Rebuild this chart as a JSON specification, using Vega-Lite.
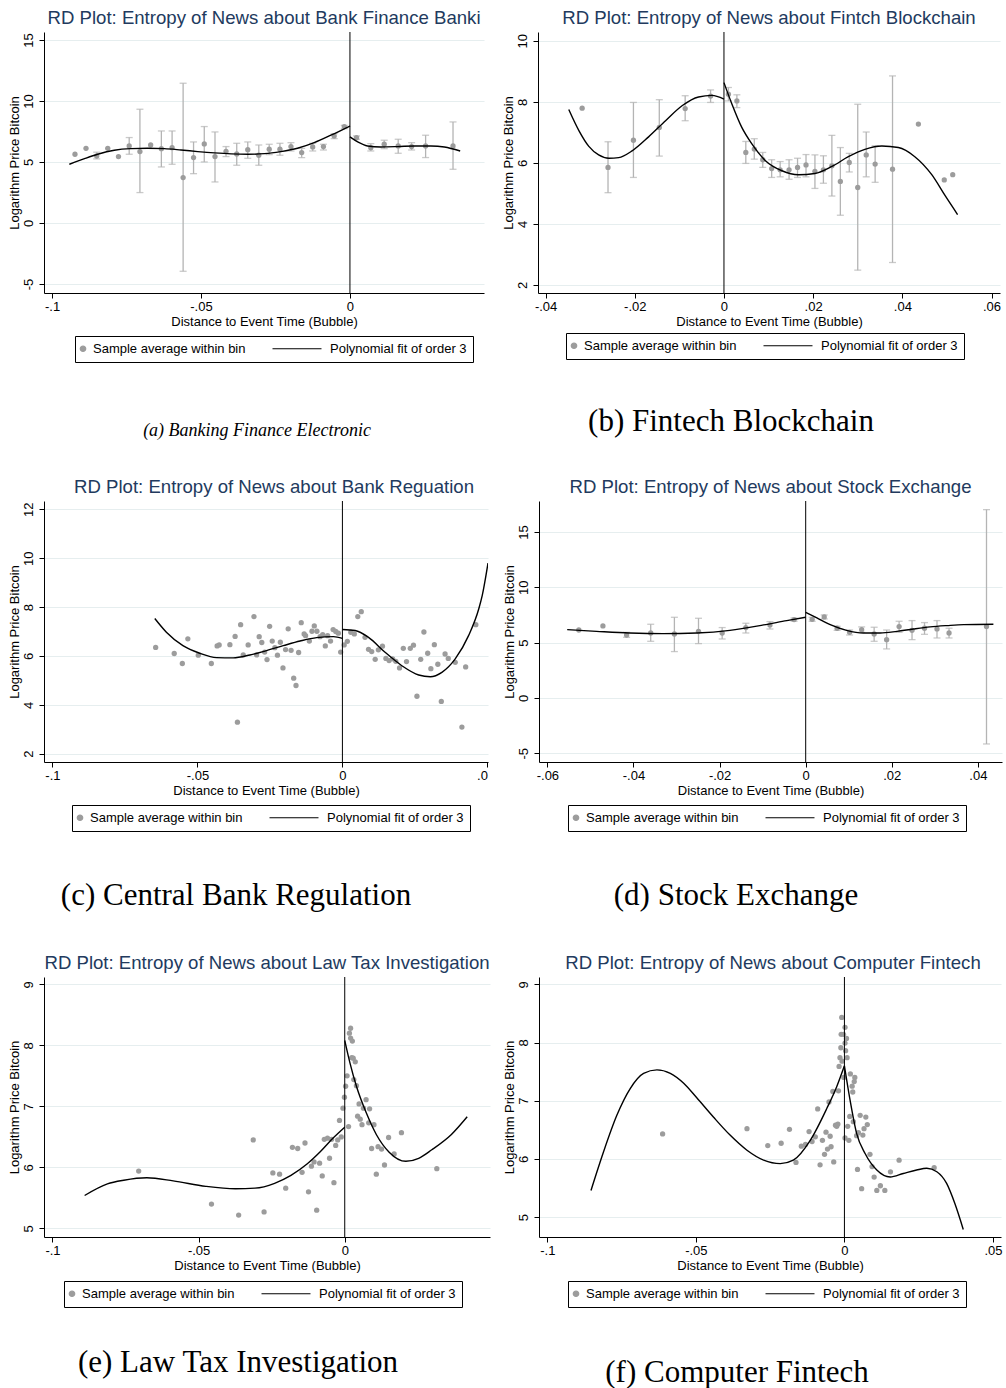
{
"$schema":"https://vega.github.io/schema/vega-lite/v6.json",
"background":"white",
"padding":{"left":7,"top":8,"right":0,"bottom":0},
"config":{
 "view":{"stroke":null},
 "font":"Liberation Sans",
 "title":{"font":"Liberation Sans","fontSize":18.6,"fontWeight":"normal","color":"#223a5e","frame":"group","anchor":"middle","offset":4},
 "axis":{"labelFont":"Liberation Sans","labelFontSize":13,"labelColor":"#000000","titleFont":"Liberation Sans","titleFontSize":13,"titleFontWeight":"normal","titleColor":"#000000","domainColor":"#000000","tickColor":"#000000","tickSize":5,"gridColor":"#e6eeef","gridWidth":1.2},
 "axisX":{"grid":false,"labelPadding":2,"titlePadding":2},
 "axisY":{"grid":true,"labelAngle":-90,"labelAlign":"center","labelBaseline":"bottom","labelPadding":4,"titlePadding":1,"title":"Logarithm Price Bitcoin"}
},
"datasets":{
 "a_pts":[{"x":-0.0923,"y":5.63},{"x":-0.0886,"y":6.12},{"x":-0.085,"y":5.49,"lo":5.25,"hi":5.8},{"x":-0.0813,"y":6.12},{"x":-0.0777,"y":5.44},{"x":-0.0741,"y":6.31,"lo":5.63,"hi":7.0},{"x":-0.0705,"y":5.85,"lo":2.49,"hi":9.32},{"x":-0.0669,"y":6.39},{"x":-0.0633,"y":6.09,"lo":4.59,"hi":7.54},{"x":-0.0597,"y":6.17,"lo":4.81,"hi":7.54},{"x":-0.056,"y":3.72,"lo":-3.96,"hi":11.45},{"x":-0.0525,"y":5.36,"lo":4.04,"hi":6.64},{"x":-0.0489,"y":6.48,"lo":5.0,"hi":7.9},{"x":-0.0453,"y":5.44,"lo":3.36,"hi":7.46},{"x":-0.0416,"y":5.87,"lo":5.44,"hi":6.26},{"x":-0.038,"y":5.66,"lo":4.73,"hi":6.53},{"x":-0.0343,"y":6.01,"lo":5.3,"hi":6.64},{"x":-0.0306,"y":5.55,"lo":4.73,"hi":6.39},{"x":-0.0271,"y":6.04,"lo":5.6,"hi":6.45},{"x":-0.0235,"y":6.04,"lo":5.55,"hi":6.53},{"x":-0.0198,"y":6.26,"lo":5.9,"hi":6.58},{"x":-0.0162,"y":5.77,"lo":5.36,"hi":6.12},{"x":-0.0125,"y":6.23,"lo":5.9,"hi":6.53},{"x":-0.0089,"y":6.26,"lo":5.98,"hi":6.45},{"x":-0.0053,"y":7.13,"lo":6.91,"hi":7.32},{"x":-0.0019,"y":7.9,"lo":7.73,"hi":8.0},{"x":0.0022,"y":6.99,"lo":6.86,"hi":7.13},{"x":0.007,"y":6.17,"lo":5.9,"hi":6.5},{"x":0.0115,"y":6.45,"lo":6.09,"hi":6.78},{"x":0.0162,"y":6.31,"lo":5.71,"hi":6.86},{"x":0.0207,"y":6.26,"lo":5.98,"hi":6.58},{"x":0.0254,"y":6.31,"lo":5.36,"hi":7.19},{"x":0.0346,"y":6.31,"lo":4.4,"hi":8.28}],
 "a_fit":[{"side":"L","x":-0.0942,"y":4.81},{"side":"L","x":-0.0891,"y":5.27},{"side":"L","x":-0.0847,"y":5.63},{"side":"L","x":-0.0791,"y":5.96},{"side":"L","x":-0.0735,"y":6.09},{"side":"L","x":-0.0679,"y":6.12},{"side":"L","x":-0.0623,"y":6.09},{"side":"L","x":-0.0567,"y":5.98},{"side":"L","x":-0.0511,"y":5.85},{"side":"L","x":-0.0455,"y":5.74},{"side":"L","x":-0.0399,"y":5.66},{"side":"L","x":-0.0343,"y":5.63},{"side":"L","x":-0.0287,"y":5.68},{"side":"L","x":-0.0232,"y":5.85},{"side":"L","x":-0.0176,"y":6.12},{"side":"L","x":-0.012,"y":6.58},{"side":"L","x":-0.0064,"y":7.19},{"side":"L","x":0,"y":7.95},{"side":"R","x":0,"y":7.05},{"side":"R","x":0.0026,"y":6.64},{"side":"R","x":0.0059,"y":6.31},{"side":"R","x":0.0104,"y":6.23},{"side":"R","x":0.016,"y":6.26},{"side":"R","x":0.0216,"y":6.31},{"side":"R","x":0.0272,"y":6.31},{"side":"R","x":0.0317,"y":6.23},{"side":"R","x":0.037,"y":5.9}],
 "b_pts":[{"x":-0.0318,"y":7.79},{"x":-0.026,"y":5.85,"lo":5.02,"hi":6.69},{"x":-0.0203,"y":6.74,"lo":5.52,"hi":7.98},{"x":-0.0145,"y":7.16,"lo":6.22,"hi":8.07},{"x":-0.0087,"y":7.78,"lo":7.38,"hi":8.2},{"x":-0.003,"y":8.19,"lo":7.98,"hi":8.39},{"x":0.001,"y":8.25,"lo":8.03,"hi":8.47},{"x":0.0029,"y":8.03,"lo":7.81,"hi":8.23},{"x":0.0049,"y":6.34,"lo":5.98,"hi":6.7},{"x":0.0068,"y":6.45,"lo":6.12,"hi":6.79},{"x":0.0087,"y":6.1,"lo":5.85,"hi":6.34},{"x":0.0107,"y":5.81,"lo":5.52,"hi":6.1},{"x":0.0126,"y":5.77,"lo":5.54,"hi":6.04},{"x":0.0146,"y":5.77,"lo":5.46,"hi":6.1},{"x":0.0165,"y":5.85,"lo":5.52,"hi":6.15},{"x":0.0184,"y":5.93,"lo":5.54,"hi":6.27},{"x":0.0204,"y":5.72,"lo":5.16,"hi":6.26},{"x":0.0223,"y":5.77,"lo":5.33,"hi":6.23},{"x":0.0242,"y":5.9,"lo":4.91,"hi":6.9},{"x":0.0261,"y":5.39,"lo":4.28,"hi":6.5},{"x":0.0281,"y":6.01,"lo":5.7,"hi":6.31},{"x":0.03,"y":5.19,"lo":2.48,"hi":7.92},{"x":0.0319,"y":6.26,"lo":5.54,"hi":7.01},{"x":0.0339,"y":5.96,"lo":5.36,"hi":6.56},{"x":0.0378,"y":5.79,"lo":2.73,"hi":8.85},{"x":0.0436,"y":7.27},{"x":0.0494,"y":5.44},{"x":0.0513,"y":5.61}],
 "b_fit":[{"side":"L","x":-0.0348,"y":7.75},{"side":"L","x":-0.0325,"y":7.05},{"side":"L","x":-0.0303,"y":6.54},{"side":"L","x":-0.0281,"y":6.26},{"side":"L","x":-0.0258,"y":6.15},{"side":"L","x":-0.0236,"y":6.17},{"side":"L","x":-0.0206,"y":6.39},{"side":"L","x":-0.0169,"y":6.85},{"side":"L","x":-0.0131,"y":7.38},{"side":"L","x":-0.0094,"y":7.87},{"side":"L","x":-0.0057,"y":8.16},{"side":"L","x":-0.0027,"y":8.21},{"side":"L","x":0,"y":8.09},{"side":"R","x":0,"y":8.63},{"side":"R","x":0.0018,"y":7.92},{"side":"R","x":0.004,"y":7.16},{"side":"R","x":0.0063,"y":6.61},{"side":"R","x":0.0093,"y":6.07},{"side":"R","x":0.013,"y":5.74},{"side":"R","x":0.0167,"y":5.61},{"side":"R","x":0.0204,"y":5.65},{"side":"R","x":0.0242,"y":5.88},{"side":"R","x":0.0279,"y":6.2},{"side":"R","x":0.0316,"y":6.44},{"side":"R","x":0.0354,"y":6.55},{"side":"R","x":0.0391,"y":6.5},{"side":"R","x":0.0428,"y":6.2},{"side":"R","x":0.0466,"y":5.61},{"side":"R","x":0.0496,"y":4.92},{"side":"R","x":0.0524,"y":4.3}],
 "c_pts":[{"x":-0.0644,"y":6.35},{"x":-0.058,"y":6.1},{"x":-0.0552,"y":5.69},{"x":-0.0533,"y":6.7},{"x":-0.0497,"y":6.03},{"x":-0.0452,"y":5.69},{"x":-0.0432,"y":6.41},{"x":-0.0425,"y":6.45},{"x":-0.0388,"y":6.46},{"x":-0.037,"y":6.8},{"x":-0.0351,"y":7.28},{"x":-0.0342,"y":6.04},{"x":-0.0325,"y":6.45},{"x":-0.0305,"y":7.61},{"x":-0.0296,"y":6.04},{"x":-0.0287,"y":6.79},{"x":-0.0278,"y":6.55},{"x":-0.0268,"y":6.16},{"x":-0.026,"y":5.85},{"x":-0.0251,"y":7.21},{"x":-0.0242,"y":6.61},{"x":-0.0233,"y":6.34},{"x":-0.0224,"y":6.03},{"x":-0.0214,"y":6.56},{"x":-0.0205,"y":5.51},{"x":-0.0196,"y":6.26},{"x":-0.0187,"y":7.11},{"x":-0.0177,"y":6.23},{"x":-0.0168,"y":5.09},{"x":-0.016,"y":4.79},{"x":-0.0151,"y":6.14},{"x":-0.0142,"y":7.36},{"x":-0.0132,"y":6.9},{"x":-0.0127,"y":6.83},{"x":-0.0114,"y":6.61},{"x":-0.0105,"y":7.01},{"x":-0.0097,"y":7.23},{"x":-0.0088,"y":7.01},{"x":-0.0077,"y":6.79},{"x":-0.0068,"y":6.87},{"x":-0.0059,"y":6.41},{"x":-0.0051,"y":6.83},{"x":-0.0041,"y":6.61},{"x":-0.0032,"y":7.08},{"x":-0.0023,"y":7.0},{"x":-0.0014,"y":6.93},{"x":-0.0006,"y":6.16},{"x":-0.0362,"y":3.29},{"x":0.0006,"y":6.45},{"x":0.0017,"y":6.6},{"x":0.0029,"y":6.97},{"x":0.0041,"y":6.9},{"x":0.0053,"y":7.61},{"x":0.0065,"y":7.81},{"x":0.0078,"y":6.76},{"x":0.009,"y":6.27},{"x":0.0101,"y":6.18},{"x":0.0113,"y":5.86},{"x":0.0124,"y":6.25},{"x":0.0138,"y":6.4},{"x":0.015,"y":5.9},{"x":0.0161,"y":5.81},{"x":0.0173,"y":5.88},{"x":0.0184,"y":5.78},{"x":0.0197,"y":5.51},{"x":0.021,"y":6.31},{"x":0.0221,"y":5.77},{"x":0.0234,"y":6.31},{"x":0.0245,"y":6.44},{"x":0.0257,"y":4.35},{"x":0.027,"y":5.86},{"x":0.0281,"y":6.98},{"x":0.0294,"y":6.11},{"x":0.0305,"y":5.48},{"x":0.0317,"y":6.46},{"x":0.0329,"y":5.66},{"x":0.0341,"y":4.14},{"x":0.0354,"y":6.08},{"x":0.0365,"y":5.9},{"x":0.0389,"y":5.74},{"x":0.0412,"y":3.09},{"x":0.0425,"y":5.55},{"x":0.046,"y":7.28}],
 "c_fit":[{"side":"L","x":-0.0647,"y":7.53},{"side":"L","x":-0.0607,"y":6.97},{"side":"L","x":-0.055,"y":6.42},{"side":"L","x":-0.0492,"y":6.11},{"side":"L","x":-0.0434,"y":5.93},{"side":"L","x":-0.0377,"y":5.92},{"side":"L","x":-0.0319,"y":6.04},{"side":"L","x":-0.0262,"y":6.22},{"side":"L","x":-0.0204,"y":6.42},{"side":"L","x":-0.0146,"y":6.61},{"side":"L","x":-0.0089,"y":6.75},{"side":"L","x":-0.0031,"y":6.79},{"side":"L","x":0,"y":6.72},{"side":"R","x":0,"y":7.08},{"side":"R","x":0.0044,"y":7.04},{"side":"R","x":0.009,"y":6.76},{"side":"R","x":0.0147,"y":6.15},{"side":"R","x":0.0205,"y":5.6},{"side":"R","x":0.0263,"y":5.22},{"side":"R","x":0.0303,"y":5.15},{"side":"R","x":0.0343,"y":5.33},{"side":"R","x":0.0389,"y":5.88},{"side":"R","x":0.0435,"y":6.83},{"side":"R","x":0.047,"y":7.92},{"side":"R","x":0.0482,"y":8.47},{"side":"R","x":0.0502,"y":9.8}],
 "d_pts":[{"x":-0.0527,"y":6.14},{"x":-0.0471,"y":6.51},{"x":-0.0416,"y":5.69,"lo":5.48,"hi":5.93},{"x":-0.036,"y":5.87,"lo":5.12,"hi":6.66},{"x":-0.0305,"y":5.78,"lo":4.19,"hi":7.29},{"x":-0.0249,"y":6.02,"lo":4.91,"hi":7.2},{"x":-0.0194,"y":5.87,"lo":5.33,"hi":6.36},{"x":-0.0139,"y":6.36,"lo":5.87,"hi":6.75},{"x":-0.0083,"y":6.6,"lo":6.23,"hi":6.9},{"x":-0.0027,"y":7.08,"lo":6.93,"hi":7.23},{"x":0.0015,"y":7.11,"lo":6.93,"hi":7.29},{"x":0.0043,"y":7.32,"lo":7.14,"hi":7.5},{"x":0.0073,"y":6.3,"lo":6.11,"hi":6.48},{"x":0.0102,"y":5.93,"lo":5.69,"hi":6.14},{"x":0.013,"y":6.17,"lo":5.93,"hi":6.42},{"x":0.0159,"y":5.78,"lo":5.12,"hi":6.39},{"x":0.0188,"y":5.27,"lo":4.43,"hi":6.14},{"x":0.0217,"y":6.45,"lo":5.93,"hi":6.93},{"x":0.0247,"y":6.11,"lo":5.27,"hi":6.99},{"x":0.0276,"y":6.3,"lo":5.75,"hi":6.81},{"x":0.0305,"y":6.24,"lo":5.42,"hi":6.99},{"x":0.0333,"y":5.87,"lo":5.42,"hi":6.3},{"x":0.042,"y":6.45,"lo":-4.16,"hi":17.02}],
 "d_fit":[{"side":"L","x":-0.0554,"y":6.17},{"side":"L","x":-0.0486,"y":6.02},{"side":"L","x":-0.0409,"y":5.87},{"side":"L","x":-0.0331,"y":5.81},{"side":"L","x":-0.0253,"y":5.87},{"side":"L","x":-0.0176,"y":6.11},{"side":"L","x":-0.0098,"y":6.6},{"side":"L","x":-0.0044,"y":6.99},{"side":"L","x":0,"y":7.29},{"side":"R","x":0,"y":7.74},{"side":"R","x":0.0026,"y":7.23},{"side":"R","x":0.0057,"y":6.63},{"side":"R","x":0.0095,"y":6.11},{"side":"R","x":0.0134,"y":5.87},{"side":"R","x":0.0173,"y":5.87},{"side":"R","x":0.0212,"y":6.02},{"side":"R","x":0.025,"y":6.23},{"side":"R","x":0.0289,"y":6.42},{"side":"R","x":0.0328,"y":6.54},{"side":"R","x":0.0367,"y":6.63},{"side":"R","x":0.0436,"y":6.66}],
 "e_pts":[{"x":-0.0705,"y":5.94},{"x":-0.0456,"y":5.4},{"x":-0.0363,"y":5.22},{"x":-0.0313,"y":6.45},{"x":-0.0276,"y":5.27},{"x":-0.0246,"y":5.91},{"x":-0.0223,"y":5.89},{"x":-0.0202,"y":5.66},{"x":-0.0179,"y":6.33},{"x":-0.0161,"y":6.31},{"x":-0.0146,"y":5.92},{"x":-0.0136,"y":6.4},{"x":-0.0124,"y":5.6},{"x":-0.0114,"y":6.02},{"x":-0.0105,"y":6.09},{"x":-0.0096,"y":5.3},{"x":-0.0086,"y":6.07},{"x":-0.0077,"y":5.86},{"x":-0.007,"y":6.46},{"x":-0.0059,"y":6.48},{"x":-0.0052,"y":6.15},{"x":-0.0045,"y":6.46},{"x":-0.0037,"y":5.75},{"x":-0.0031,"y":6.36},{"x":-0.0024,"y":6.45},{"x":-0.0018,"y":6.77},{"x":-0.0012,"y":6.5},{"x":-0.0006,"y":6.97},{"x":-0.0001,"y":7.15},{"x":0.0003,"y":7.33},{"x":0.0008,"y":7.5},{"x":0.0013,"y":6.67},{"x":0.0016,"y":8.2},{"x":0.002,"y":8.28},{"x":0.002,"y":8.12},{"x":0.0026,"y":8.07},{"x":0.0024,"y":7.8},{"x":0.0029,"y":7.79},{"x":0.0036,"y":7.73},{"x":0.0031,"y":7.44},{"x":0.004,"y":7.34},{"x":0.0049,"y":7.04},{"x":0.0044,"y":6.84},{"x":0.0053,"y":6.79},{"x":0.0059,"y":6.7},{"x":0.0064,"y":6.97},{"x":0.0073,"y":7.11},{"x":0.0085,"y":6.96},{"x":0.0082,"y":6.73},{"x":0.01,"y":6.7},{"x":0.0092,"y":6.31},{"x":0.0114,"y":6.34},{"x":0.0126,"y":6.3},{"x":0.0108,"y":5.89},{"x":0.0136,"y":6.04},{"x":0.015,"y":6.49},{"x":0.0169,"y":6.22},{"x":0.0194,"y":6.57},{"x":0.0315,"y":5.98}],
 "e_fit":[{"side":"L","x":-0.089,"y":5.54},{"side":"L","x":-0.0812,"y":5.73},{"side":"L","x":-0.0756,"y":5.79},{"side":"L","x":-0.0677,"y":5.83},{"side":"L","x":-0.0587,"y":5.78},{"side":"L","x":-0.0475,"y":5.69},{"side":"L","x":-0.0374,"y":5.65},{"side":"L","x":-0.0307,"y":5.66},{"side":"L","x":-0.024,"y":5.74},{"side":"L","x":-0.0184,"y":5.87},{"side":"L","x":-0.0128,"y":6.06},{"side":"L","x":-0.0083,"y":6.26},{"side":"L","x":-0.0038,"y":6.49},{"side":"L","x":0,"y":6.66},{"side":"R","x":0,"y":8.08},{"side":"R","x":0.0018,"y":7.71},{"side":"R","x":0.004,"y":7.33},{"side":"R","x":0.0074,"y":6.89},{"side":"R","x":0.0108,"y":6.54},{"side":"R","x":0.0152,"y":6.25},{"side":"R","x":0.0209,"y":6.1},{"side":"R","x":0.0253,"y":6.15},{"side":"R","x":0.0298,"y":6.29},{"side":"R","x":0.0365,"y":6.54},{"side":"R","x":0.0419,"y":6.83}],
 "f_pts":[{"x":-0.0612,"y":6.43},{"x":-0.0328,"y":6.52},{"x":-0.0258,"y":6.23},{"x":-0.0213,"y":6.27},{"x":-0.0185,"y":6.51},{"x":-0.0163,"y":5.94},{"x":-0.0145,"y":6.22},{"x":-0.0131,"y":6.25},{"x":-0.0119,"y":6.47},{"x":-0.0109,"y":6.3},{"x":-0.0098,"y":6.38},{"x":-0.009,"y":6.86},{"x":-0.0082,"y":5.9},{"x":-0.0074,"y":6.32},{"x":-0.0067,"y":6.08},{"x":-0.0062,"y":6.46},{"x":-0.0057,"y":6.17},{"x":-0.0052,"y":6.98},{"x":-0.0048,"y":6.39},{"x":-0.0045,"y":6.21},{"x":-0.0039,"y":7.16},{"x":-0.0036,"y":5.95},{"x":-0.003,"y":6.58},{"x":-0.0026,"y":6.56},{"x":-0.0022,"y":6.6},{"x":-0.002,"y":7.17},{"x":-0.0018,"y":7.59},{"x":-0.0015,"y":7.74},{"x":-0.0012,"y":7.91},{"x":-0.0011,"y":8.14},{"x":-0.0009,"y":8.43},{"x":-0.0008,"y":7.68},{"x":-0.0003,"y":8.14},{"x":-0.0002,"y":7.4},{"x":0.0002,"y":8.26},{"x":0.0002,"y":7.99},{"x":0.0004,"y":7.86},{"x":0.0007,"y":8.07},{"x":0.0009,"y":7.74},{"x":0.0002,"y":6.36},{"x":0.0015,"y":6.32},{"x":0.0011,"y":6.56},{"x":0.0018,"y":6.73},{"x":0.002,"y":7.46},{"x":0.0026,"y":7.25},{"x":0.0028,"y":7.15},{"x":0.0033,"y":7.33},{"x":0.0035,"y":7.4},{"x":0.003,"y":6.64},{"x":0.0041,"y":6.4},{"x":0.0047,"y":6.45},{"x":0.0044,"y":5.82},{"x":0.0053,"y":6.75},{"x":0.0062,"y":6.41},{"x":0.0066,"y":6.52},{"x":0.0072,"y":6.72},{"x":0.0077,"y":6.59},{"x":0.0058,"y":5.49},{"x":0.0086,"y":6.08},{"x":0.0093,"y":5.87},{"x":0.01,"y":5.69},{"x":0.0109,"y":5.46},{"x":0.0121,"y":5.54},{"x":0.0136,"y":5.46},{"x":0.0155,"y":5.78},{"x":0.0184,"y":5.98},{"x":0.0302,"y":5.85}],
 "f_fit":[{"side":"L","x":-0.0853,"y":5.46},{"side":"L","x":-0.0811,"y":6.12},{"side":"L","x":-0.0766,"y":6.75},{"side":"L","x":-0.0721,"y":7.21},{"side":"L","x":-0.0676,"y":7.47},{"side":"L","x":-0.0631,"y":7.53},{"side":"L","x":-0.0586,"y":7.47},{"side":"L","x":-0.0541,"y":7.3},{"side":"L","x":-0.0497,"y":7.05},{"side":"L","x":-0.0441,"y":6.72},{"side":"L","x":-0.0385,"y":6.41},{"side":"L","x":-0.0328,"y":6.15},{"side":"L","x":-0.0272,"y":5.98},{"side":"L","x":-0.0216,"y":5.92},{"side":"L","x":-0.0172,"y":5.98},{"side":"L","x":-0.0115,"y":6.32},{"side":"L","x":-0.0059,"y":6.87},{"side":"L","x":-0.0026,"y":7.24},{"side":"L","x":0,"y":7.6},{"side":"R","x":0,"y":7.6},{"side":"R","x":0.0019,"y":7.01},{"side":"R","x":0.0041,"y":6.44},{"side":"R","x":0.007,"y":6.09},{"side":"R","x":0.0109,"y":5.81},{"side":"R","x":0.0154,"y":5.69},{"side":"R","x":0.0198,"y":5.75},{"side":"R","x":0.0243,"y":5.81},{"side":"R","x":0.0277,"y":5.84},{"side":"R","x":0.0311,"y":5.78},{"side":"R","x":0.0344,"y":5.58},{"side":"R","x":0.0372,"y":5.23},{"side":"R","x":0.04,"y":4.79}]
},
"resolve":{"scale":{"color":"independent"},"legend":{"color":"independent"}},
"spacing":37,
"vconcat":[
 {"hconcat":[
  {"vconcat":[
   {"width":440,"height":261,
    "title":{"text":"RD Plot: Entropy of News about Bank Finance Banki"},
    "encoding":{"x":{"field":"x","type":"quantitative","scale":{"domain":[-0.1027,0.045],"nice":false,"zero":false},"axis":{"values":[-0.1,-0.05,0],"title":"Distance to Event Time (Bubble)","labelExpr":"(datum.value < 0 ? '-' : '') + replace(format(abs(datum.value), '~g'), '0.', '.')"}}},
    "layer":[
     {"data":{"name":"a_pts"},"transform":[{"filter":"isValid(datum.lo)"}],"mark":{"type":"errorbar","color":"#b4b4b4","thickness":1.3,"ticks":{"size":7,"color":"#b4b4b4"}},"encoding":{"y":{"field":"lo","type":"quantitative","scale":{"domain":[-5.74,15.65],"nice":false,"zero":false},"axis":{"values":[-5,0,5,10,15],"title":"Logarithm Price Bitcoin","labelExpr":"(datum.value < 0 ? '-' : '') + format(abs(datum.value), 'd')"}},"y2":{"field":"hi"}}},
     {"data":{"name":"a_pts"},"mark":{"type":"point","filled":true,"size":28,"opacity":1},"encoding":{"y":{"field":"y","type":"quantitative","scale":{"domain":[-5.74,15.65],"nice":false,"zero":false},"axis":{"values":[-5,0,5,10,15],"title":"Logarithm Price Bitcoin","labelExpr":"(datum.value < 0 ? '-' : '') + format(abs(datum.value), 'd')"}},"color":{"datum":"Sample average within bin","scale":{"domain":["Sample average within bin","Polynomial fit of order 3"],"range":["#9c9c9c","#000000"]},"legend":{"orient":"none","legendX":31,"legendY":304,"direction":"horizontal","title":null,"strokeColor":"#000000","padding":6,"columnPadding":24,"labelFont":"Liberation Sans","labelFontSize":13,"labelColor":"#000000","labelLimit":300,"encode":{"symbols":{"update":{"shape":{"signal":"datum.value === 'Polynomial fit of order 3' ? 'stroke' : 'circle'"},"size":{"signal":"datum.value === 'Polynomial fit of order 3' ? 2400 : 30"},"fill":{"signal":"datum.value === 'Polynomial fit of order 3' ? 'transparent' : '#9c9c9c'"},"stroke":{"signal":"datum.value === 'Polynomial fit of order 3' ? '#000000' : 'transparent'"},"strokeWidth":{"value":1.2},"x":{"signal":"datum.value === 'Polynomial fit of order 3' ? 23 : 2"},"opacity":{"value":1}}},"labels":{"update":{"x":{"signal":"datum.value === 'Polynomial fit of order 3' ? 56 : 12"}}}}}}}},
     {"data":{"name":"a_fit"},"mark":{"type":"line","strokeWidth":1.4,"interpolate":"monotone"},"encoding":{"y":{"field":"y","type":"quantitative","scale":{"domain":[-5.74,15.65],"nice":false,"zero":false},"axis":{"values":[-5,0,5,10,15],"title":"Logarithm Price Bitcoin","labelExpr":"(datum.value < 0 ? '-' : '') + format(abs(datum.value), 'd')"}},"detail":{"field":"side"},"color":{"datum":"Polynomial fit of order 3","scale":{"domain":["Sample average within bin","Polynomial fit of order 3"],"range":["#9c9c9c","#000000"]},"legend":{"orient":"none","legendX":31,"legendY":304,"direction":"horizontal","title":null,"strokeColor":"#000000","padding":6,"columnPadding":24,"labelFont":"Liberation Sans","labelFontSize":13,"labelColor":"#000000","labelLimit":300,"encode":{"symbols":{"update":{"shape":{"signal":"datum.value === 'Polynomial fit of order 3' ? 'stroke' : 'circle'"},"size":{"signal":"datum.value === 'Polynomial fit of order 3' ? 2400 : 30"},"fill":{"signal":"datum.value === 'Polynomial fit of order 3' ? 'transparent' : '#9c9c9c'"},"stroke":{"signal":"datum.value === 'Polynomial fit of order 3' ? '#000000' : 'transparent'"},"strokeWidth":{"value":1.2},"x":{"signal":"datum.value === 'Polynomial fit of order 3' ? 23 : 2"},"opacity":{"value":1}}},"labels":{"update":{"x":{"signal":"datum.value === 'Polynomial fit of order 3' ? 56 : 12"}}}}}}}},
     {"data":{"values":[{"x":0}]},"mark":{"type":"rule","color":"#000000","strokeWidth":1},"encoding":{}}
    ]}
  ],
  "title":{"text":"(a) Banking Finance Electronic","orient":"bottom","anchor":"middle","font":"Liberation Serif","fontStyle":"italic","fontSize":18,"color":"#000000","offset":59,"dx":213},
  "resolve":{"scale":{"color":"independent"},"legend":{"color":"independent"}}},
  {"vconcat":[
   {"width":462,"height":261,
    "title":{"text":"RD Plot: Entropy of News about Fintch Blockchain"},
    "encoding":{"x":{"field":"x","type":"quantitative","scale":{"domain":[-0.0417,0.0619],"nice":false,"zero":false},"axis":{"values":[-0.04,-0.02,0,0.02,0.04,0.06],"title":"Distance to Event Time (Bubble)","labelExpr":"(datum.value < 0 ? '-' : '') + replace(format(abs(datum.value), '~g'), '0.', '.')"}}},
    "layer":[
     {"data":{"name":"b_pts"},"transform":[{"filter":"isValid(datum.lo)"}],"mark":{"type":"errorbar","color":"#b4b4b4","thickness":1.3,"ticks":{"size":7,"color":"#b4b4b4"}},"encoding":{"y":{"field":"lo","type":"quantitative","scale":{"domain":[1.73,10.29],"nice":false,"zero":false},"axis":{"values":[2,4,6,8,10],"title":"Logarithm Price Bitcoin"}},"y2":{"field":"hi"}}},
     {"data":{"name":"b_pts"},"mark":{"type":"point","filled":true,"size":28,"opacity":1},"encoding":{"y":{"field":"y","type":"quantitative","scale":{"domain":[1.73,10.29],"nice":false,"zero":false},"axis":{"values":[2,4,6,8,10],"title":"Logarithm Price Bitcoin"}},"color":{"datum":"Sample average within bin","scale":{"domain":["Sample average within bin","Polynomial fit of order 3"],"range":["#9c9c9c","#000000"]},"legend":{"orient":"none","legendX":28,"legendY":301,"direction":"horizontal","title":null,"strokeColor":"#000000","padding":6,"columnPadding":24,"labelFont":"Liberation Sans","labelFontSize":13,"labelColor":"#000000","labelLimit":300,"encode":{"symbols":{"update":{"shape":{"signal":"datum.value === 'Polynomial fit of order 3' ? 'stroke' : 'circle'"},"size":{"signal":"datum.value === 'Polynomial fit of order 3' ? 2400 : 30"},"fill":{"signal":"datum.value === 'Polynomial fit of order 3' ? 'transparent' : '#9c9c9c'"},"stroke":{"signal":"datum.value === 'Polynomial fit of order 3' ? '#000000' : 'transparent'"},"strokeWidth":{"value":1.2},"x":{"signal":"datum.value === 'Polynomial fit of order 3' ? 23 : 2"},"opacity":{"value":1}}},"labels":{"update":{"x":{"signal":"datum.value === 'Polynomial fit of order 3' ? 56 : 12"}}}}}}}},
     {"data":{"name":"b_fit"},"mark":{"type":"line","strokeWidth":1.4,"interpolate":"monotone"},"encoding":{"y":{"field":"y","type":"quantitative","scale":{"domain":[1.73,10.29],"nice":false,"zero":false},"axis":{"values":[2,4,6,8,10],"title":"Logarithm Price Bitcoin"}},"detail":{"field":"side"},"color":{"datum":"Polynomial fit of order 3","scale":{"domain":["Sample average within bin","Polynomial fit of order 3"],"range":["#9c9c9c","#000000"]},"legend":{"orient":"none","legendX":28,"legendY":301,"direction":"horizontal","title":null,"strokeColor":"#000000","padding":6,"columnPadding":24,"labelFont":"Liberation Sans","labelFontSize":13,"labelColor":"#000000","labelLimit":300,"encode":{"symbols":{"update":{"shape":{"signal":"datum.value === 'Polynomial fit of order 3' ? 'stroke' : 'circle'"},"size":{"signal":"datum.value === 'Polynomial fit of order 3' ? 2400 : 30"},"fill":{"signal":"datum.value === 'Polynomial fit of order 3' ? 'transparent' : '#9c9c9c'"},"stroke":{"signal":"datum.value === 'Polynomial fit of order 3' ? '#000000' : 'transparent'"},"strokeWidth":{"value":1.2},"x":{"signal":"datum.value === 'Polynomial fit of order 3' ? 23 : 2"},"opacity":{"value":1}}},"labels":{"update":{"x":{"signal":"datum.value === 'Polynomial fit of order 3' ? 56 : 12"}}}}}}}},
     {"data":{"values":[{"x":0}]},"mark":{"type":"rule","color":"#000000","strokeWidth":1},"encoding":{}}
    ]}
  ],
  "title":{"text":"(b) Fintech Blockchain","orient":"bottom","anchor":"middle","font":"Liberation Serif","fontSize":31,"color":"#000000","offset":47,"dx":193},
  "resolve":{"scale":{"color":"independent"},"legend":{"color":"independent"}}}
 ],"spacing":17,"resolve":{"scale":{"color":"independent"},"legend":{"color":"independent"}}},
 {"hconcat":[
  {"vconcat":[
   {"width":444,"height":261,
    "title":{"text":"RD Plot: Entropy of News about Bank Reguation","dx":8},
    "encoding":{"x":{"field":"x","type":"quantitative","scale":{"domain":[-0.1029,0.0502],"nice":false,"zero":false},"axis":{"values":[-0.1,-0.05,0,0.05],"title":"Distance to Event Time (Bubble)","labelExpr":"datum.value > 0.04 ? '.0' : (datum.value < 0 ? '-' : '') + replace(format(abs(datum.value), '~g'), '0.', '.')"}}},
    "layer":[
     {"data":{"name":"c_pts"},"mark":{"type":"point","filled":true,"size":28,"opacity":1,"clip":true},"encoding":{"y":{"field":"y","type":"quantitative","scale":{"domain":[1.66,12.34],"nice":false,"zero":false},"axis":{"values":[2,4,6,8,10,12],"title":"Logarithm Price Bitcoin"}},"color":{"datum":"Sample average within bin","scale":{"domain":["Sample average within bin","Polynomial fit of order 3"],"range":["#9c9c9c","#000000"]},"legend":{"orient":"none","legendX":28,"legendY":304,"direction":"horizontal","title":null,"strokeColor":"#000000","padding":6,"columnPadding":24,"labelFont":"Liberation Sans","labelFontSize":13,"labelColor":"#000000","labelLimit":300,"encode":{"symbols":{"update":{"shape":{"signal":"datum.value === 'Polynomial fit of order 3' ? 'stroke' : 'circle'"},"size":{"signal":"datum.value === 'Polynomial fit of order 3' ? 2400 : 30"},"fill":{"signal":"datum.value === 'Polynomial fit of order 3' ? 'transparent' : '#9c9c9c'"},"stroke":{"signal":"datum.value === 'Polynomial fit of order 3' ? '#000000' : 'transparent'"},"strokeWidth":{"value":1.2},"x":{"signal":"datum.value === 'Polynomial fit of order 3' ? 23 : 2"},"opacity":{"value":1}}},"labels":{"update":{"x":{"signal":"datum.value === 'Polynomial fit of order 3' ? 56 : 12"}}}}}}}},
     {"data":{"name":"c_fit"},"mark":{"type":"line","strokeWidth":1.4,"interpolate":"monotone","clip":true},"encoding":{"y":{"field":"y","type":"quantitative","scale":{"domain":[1.66,12.34],"nice":false,"zero":false},"axis":{"values":[2,4,6,8,10,12],"title":"Logarithm Price Bitcoin"}},"detail":{"field":"side"},"color":{"datum":"Polynomial fit of order 3","scale":{"domain":["Sample average within bin","Polynomial fit of order 3"],"range":["#9c9c9c","#000000"]},"legend":{"orient":"none","legendX":28,"legendY":304,"direction":"horizontal","title":null,"strokeColor":"#000000","padding":6,"columnPadding":24,"labelFont":"Liberation Sans","labelFontSize":13,"labelColor":"#000000","labelLimit":300,"encode":{"symbols":{"update":{"shape":{"signal":"datum.value === 'Polynomial fit of order 3' ? 'stroke' : 'circle'"},"size":{"signal":"datum.value === 'Polynomial fit of order 3' ? 2400 : 30"},"fill":{"signal":"datum.value === 'Polynomial fit of order 3' ? 'transparent' : '#9c9c9c'"},"stroke":{"signal":"datum.value === 'Polynomial fit of order 3' ? '#000000' : 'transparent'"},"strokeWidth":{"value":1.2},"x":{"signal":"datum.value === 'Polynomial fit of order 3' ? 23 : 2"},"opacity":{"value":1}}},"labels":{"update":{"x":{"signal":"datum.value === 'Polynomial fit of order 3' ? 56 : 12"}}}}}}}},
     {"data":{"values":[{"x":0}]},"mark":{"type":"rule","color":"#000000","strokeWidth":1},"encoding":{}}
    ]}
  ],
  "title":{"text":"(c) Central Bank Regulation","subtitle":" ","subtitleFontSize":4,"subtitlePadding":0,"orient":"bottom","anchor":"middle","font":"Liberation Serif","fontSize":31,"color":"#000000","offset":49,"dx":192},
  "resolve":{"scale":{"color":"independent"},"legend":{"color":"independent"}}},
  {"vconcat":[
   {"width":463,"height":261,
    "title":{"text":"RD Plot: Entropy of News about Stock Exchange"},
    "encoding":{"x":{"field":"x","type":"quantitative","scale":{"domain":[-0.06195,0.0456],"nice":false,"zero":false},"axis":{"values":[-0.06,-0.04,-0.02,0,0.02,0.04],"title":"Distance to Event Time (Bubble)","labelExpr":"(datum.value < 0 ? '-' : '') + replace(format(abs(datum.value), '~g'), '0.', '.')"}}},
    "layer":[
     {"data":{"name":"d_pts"},"transform":[{"filter":"isValid(datum.lo)"}],"mark":{"type":"errorbar","color":"#b4b4b4","thickness":1.3,"ticks":{"size":7,"color":"#b4b4b4"}},"encoding":{"y":{"field":"lo","type":"quantitative","scale":{"domain":[-5.79,17.8],"nice":false,"zero":false},"axis":{"values":[-5,0,5,10,15],"title":"Logarithm Price Bitcoin","labelExpr":"(datum.value < 0 ? '-' : '') + format(abs(datum.value), 'd')"}},"y2":{"field":"hi"}}},
     {"data":{"name":"d_pts"},"mark":{"type":"point","filled":true,"size":28,"opacity":1},"encoding":{"y":{"field":"y","type":"quantitative","scale":{"domain":[-5.79,17.8],"nice":false,"zero":false},"axis":{"values":[-5,0,5,10,15],"title":"Logarithm Price Bitcoin","labelExpr":"(datum.value < 0 ? '-' : '') + format(abs(datum.value), 'd')"}},"color":{"datum":"Sample average within bin","scale":{"domain":["Sample average within bin","Polynomial fit of order 3"],"range":["#9c9c9c","#000000"]},"legend":{"orient":"none","legendX":29,"legendY":304,"direction":"horizontal","title":null,"strokeColor":"#000000","padding":6,"columnPadding":24,"labelFont":"Liberation Sans","labelFontSize":13,"labelColor":"#000000","labelLimit":300,"encode":{"symbols":{"update":{"shape":{"signal":"datum.value === 'Polynomial fit of order 3' ? 'stroke' : 'circle'"},"size":{"signal":"datum.value === 'Polynomial fit of order 3' ? 2400 : 30"},"fill":{"signal":"datum.value === 'Polynomial fit of order 3' ? 'transparent' : '#9c9c9c'"},"stroke":{"signal":"datum.value === 'Polynomial fit of order 3' ? '#000000' : 'transparent'"},"strokeWidth":{"value":1.2},"x":{"signal":"datum.value === 'Polynomial fit of order 3' ? 23 : 2"},"opacity":{"value":1}}},"labels":{"update":{"x":{"signal":"datum.value === 'Polynomial fit of order 3' ? 56 : 12"}}}}}}}},
     {"data":{"name":"d_fit"},"mark":{"type":"line","strokeWidth":1.4,"interpolate":"monotone"},"encoding":{"y":{"field":"y","type":"quantitative","scale":{"domain":[-5.79,17.8],"nice":false,"zero":false},"axis":{"values":[-5,0,5,10,15],"title":"Logarithm Price Bitcoin","labelExpr":"(datum.value < 0 ? '-' : '') + format(abs(datum.value), 'd')"}},"detail":{"field":"side"},"color":{"datum":"Polynomial fit of order 3","scale":{"domain":["Sample average within bin","Polynomial fit of order 3"],"range":["#9c9c9c","#000000"]},"legend":{"orient":"none","legendX":29,"legendY":304,"direction":"horizontal","title":null,"strokeColor":"#000000","padding":6,"columnPadding":24,"labelFont":"Liberation Sans","labelFontSize":13,"labelColor":"#000000","labelLimit":300,"encode":{"symbols":{"update":{"shape":{"signal":"datum.value === 'Polynomial fit of order 3' ? 'stroke' : 'circle'"},"size":{"signal":"datum.value === 'Polynomial fit of order 3' ? 2400 : 30"},"fill":{"signal":"datum.value === 'Polynomial fit of order 3' ? 'transparent' : '#9c9c9c'"},"stroke":{"signal":"datum.value === 'Polynomial fit of order 3' ? '#000000' : 'transparent'"},"strokeWidth":{"value":1.2},"x":{"signal":"datum.value === 'Polynomial fit of order 3' ? 23 : 2"},"opacity":{"value":1}}},"labels":{"update":{"x":{"signal":"datum.value === 'Polynomial fit of order 3' ? 56 : 12"}}}}}}}},
     {"data":{"values":[{"x":0}]},"mark":{"type":"rule","color":"#000000","strokeWidth":1},"encoding":{}}
    ]}
  ],
  "title":{"text":"(d) Stock Exchange","subtitle":" ","subtitleFontSize":4,"subtitlePadding":0,"orient":"bottom","anchor":"middle","font":"Liberation Serif","fontSize":31,"color":"#000000","offset":49,"dx":197},
  "resolve":{"scale":{"color":"independent"},"legend":{"color":"independent"}}}
 ],"spacing":15,"resolve":{"scale":{"color":"independent"},"legend":{"color":"independent"}}},
 {"hconcat":[
  {"vconcat":[
   {"width":446,"height":260,
    "title":{"text":"RD Plot: Entropy of News about Law Tax Investigation"},
    "encoding":{"x":{"field":"x","type":"quantitative","scale":{"domain":[-0.1029,0.0497],"nice":false,"zero":false},"axis":{"values":[-0.1,-0.05,0,0.05],"title":"Distance to Event Time (Bubble)","labelExpr":"datum.value > 0.04 ? '.0' : (datum.value < 0 ? '-' : '') + replace(format(abs(datum.value), '~g'), '0.', '.')"}}},
    "layer":[
     {"data":{"name":"e_pts"},"mark":{"type":"point","filled":true,"size":28,"opacity":1},"encoding":{"y":{"field":"y","type":"quantitative","scale":{"domain":[4.86,9.12],"nice":false,"zero":false},"axis":{"values":[5,6,7,8,9],"title":"Logarithm Price Bitcoin"}},"color":{"datum":"Sample average within bin","scale":{"domain":["Sample average within bin","Polynomial fit of order 3"],"range":["#9c9c9c","#000000"]},"legend":{"orient":"none","legendX":20,"legendY":304,"direction":"horizontal","title":null,"strokeColor":"#000000","padding":6,"columnPadding":24,"labelFont":"Liberation Sans","labelFontSize":13,"labelColor":"#000000","labelLimit":300,"encode":{"symbols":{"update":{"shape":{"signal":"datum.value === 'Polynomial fit of order 3' ? 'stroke' : 'circle'"},"size":{"signal":"datum.value === 'Polynomial fit of order 3' ? 2400 : 30"},"fill":{"signal":"datum.value === 'Polynomial fit of order 3' ? 'transparent' : '#9c9c9c'"},"stroke":{"signal":"datum.value === 'Polynomial fit of order 3' ? '#000000' : 'transparent'"},"strokeWidth":{"value":1.2},"x":{"signal":"datum.value === 'Polynomial fit of order 3' ? 23 : 2"},"opacity":{"value":1}}},"labels":{"update":{"x":{"signal":"datum.value === 'Polynomial fit of order 3' ? 56 : 12"}}}}}}}},
     {"data":{"name":"e_fit"},"mark":{"type":"line","strokeWidth":1.4,"interpolate":"monotone"},"encoding":{"y":{"field":"y","type":"quantitative","scale":{"domain":[4.86,9.12],"nice":false,"zero":false},"axis":{"values":[5,6,7,8,9],"title":"Logarithm Price Bitcoin"}},"detail":{"field":"side"},"color":{"datum":"Polynomial fit of order 3","scale":{"domain":["Sample average within bin","Polynomial fit of order 3"],"range":["#9c9c9c","#000000"]},"legend":{"orient":"none","legendX":20,"legendY":304,"direction":"horizontal","title":null,"strokeColor":"#000000","padding":6,"columnPadding":24,"labelFont":"Liberation Sans","labelFontSize":13,"labelColor":"#000000","labelLimit":300,"encode":{"symbols":{"update":{"shape":{"signal":"datum.value === 'Polynomial fit of order 3' ? 'stroke' : 'circle'"},"size":{"signal":"datum.value === 'Polynomial fit of order 3' ? 2400 : 30"},"fill":{"signal":"datum.value === 'Polynomial fit of order 3' ? 'transparent' : '#9c9c9c'"},"stroke":{"signal":"datum.value === 'Polynomial fit of order 3' ? '#000000' : 'transparent'"},"strokeWidth":{"value":1.2},"x":{"signal":"datum.value === 'Polynomial fit of order 3' ? 23 : 2"},"opacity":{"value":1}}},"labels":{"update":{"x":{"signal":"datum.value === 'Polynomial fit of order 3' ? 56 : 12"}}}}}}}},
     {"data":{"values":[{"x":0}]},"mark":{"type":"rule","color":"#000000","strokeWidth":1},"encoding":{}}
    ]}
  ],
  "title":{"text":"(e) Law Tax Investigation","orient":"bottom","anchor":"middle","font":"Liberation Serif","fontSize":31,"color":"#000000","offset":40,"dx":194},
  "resolve":{"scale":{"color":"independent"},"legend":{"color":"independent"}}},
  {"vconcat":[
   {"width":462,"height":260,
    "title":{"text":"RD Plot: Entropy of News about Computer Fintech","dx":3},
    "encoding":{"x":{"field":"x","type":"quantitative","scale":{"domain":[-0.1028,0.0527],"nice":false,"zero":false},"axis":{"values":[-0.1,-0.05,0,0.05],"title":"Distance to Event Time (Bubble)","labelExpr":"(datum.value < 0 ? '-' : '') + replace(format(abs(datum.value), '~g'), '0.', '.')"}}},
    "layer":[
     {"data":{"name":"f_pts"},"mark":{"type":"point","filled":true,"size":28,"opacity":1},"encoding":{"y":{"field":"y","type":"quantitative","scale":{"domain":[4.66,9.125],"nice":false,"zero":false},"axis":{"values":[5,6,7,8,9],"title":"Logarithm Price Bitcoin"}},"color":{"datum":"Sample average within bin","scale":{"domain":["Sample average within bin","Polynomial fit of order 3"],"range":["#9c9c9c","#000000"]},"legend":{"orient":"none","legendX":29,"legendY":304,"direction":"horizontal","title":null,"strokeColor":"#000000","padding":6,"columnPadding":24,"labelFont":"Liberation Sans","labelFontSize":13,"labelColor":"#000000","labelLimit":300,"encode":{"symbols":{"update":{"shape":{"signal":"datum.value === 'Polynomial fit of order 3' ? 'stroke' : 'circle'"},"size":{"signal":"datum.value === 'Polynomial fit of order 3' ? 2400 : 30"},"fill":{"signal":"datum.value === 'Polynomial fit of order 3' ? 'transparent' : '#9c9c9c'"},"stroke":{"signal":"datum.value === 'Polynomial fit of order 3' ? '#000000' : 'transparent'"},"strokeWidth":{"value":1.2},"x":{"signal":"datum.value === 'Polynomial fit of order 3' ? 23 : 2"},"opacity":{"value":1}}},"labels":{"update":{"x":{"signal":"datum.value === 'Polynomial fit of order 3' ? 56 : 12"}}}}}}}},
     {"data":{"name":"f_fit"},"mark":{"type":"line","strokeWidth":1.4,"interpolate":"monotone"},"encoding":{"y":{"field":"y","type":"quantitative","scale":{"domain":[4.66,9.125],"nice":false,"zero":false},"axis":{"values":[5,6,7,8,9],"title":"Logarithm Price Bitcoin"}},"detail":{"field":"side"},"color":{"datum":"Polynomial fit of order 3","scale":{"domain":["Sample average within bin","Polynomial fit of order 3"],"range":["#9c9c9c","#000000"]},"legend":{"orient":"none","legendX":29,"legendY":304,"direction":"horizontal","title":null,"strokeColor":"#000000","padding":6,"columnPadding":24,"labelFont":"Liberation Sans","labelFontSize":13,"labelColor":"#000000","labelLimit":300,"encode":{"symbols":{"update":{"shape":{"signal":"datum.value === 'Polynomial fit of order 3' ? 'stroke' : 'circle'"},"size":{"signal":"datum.value === 'Polynomial fit of order 3' ? 2400 : 30"},"fill":{"signal":"datum.value === 'Polynomial fit of order 3' ? 'transparent' : '#9c9c9c'"},"stroke":{"signal":"datum.value === 'Polynomial fit of order 3' ? '#000000' : 'transparent'"},"strokeWidth":{"value":1.2},"x":{"signal":"datum.value === 'Polynomial fit of order 3' ? 23 : 2"},"opacity":{"value":1}}},"labels":{"update":{"x":{"signal":"datum.value === 'Polynomial fit of order 3' ? 56 : 12"}}}}}}}},
     {"data":{"values":[{"x":0}]},"mark":{"type":"rule","color":"#000000","strokeWidth":1},"encoding":{}}
    ]}
  ],
  "title":{"text":"(f) Computer Fintech","orient":"bottom","anchor":"middle","font":"Liberation Serif","fontSize":31,"color":"#000000","offset":50,"dx":198},
  "resolve":{"scale":{"color":"independent"},"legend":{"color":"independent"}}}
 ],"spacing":12,"resolve":{"scale":{"color":"independent"},"legend":{"color":"independent"}}}
]
}
